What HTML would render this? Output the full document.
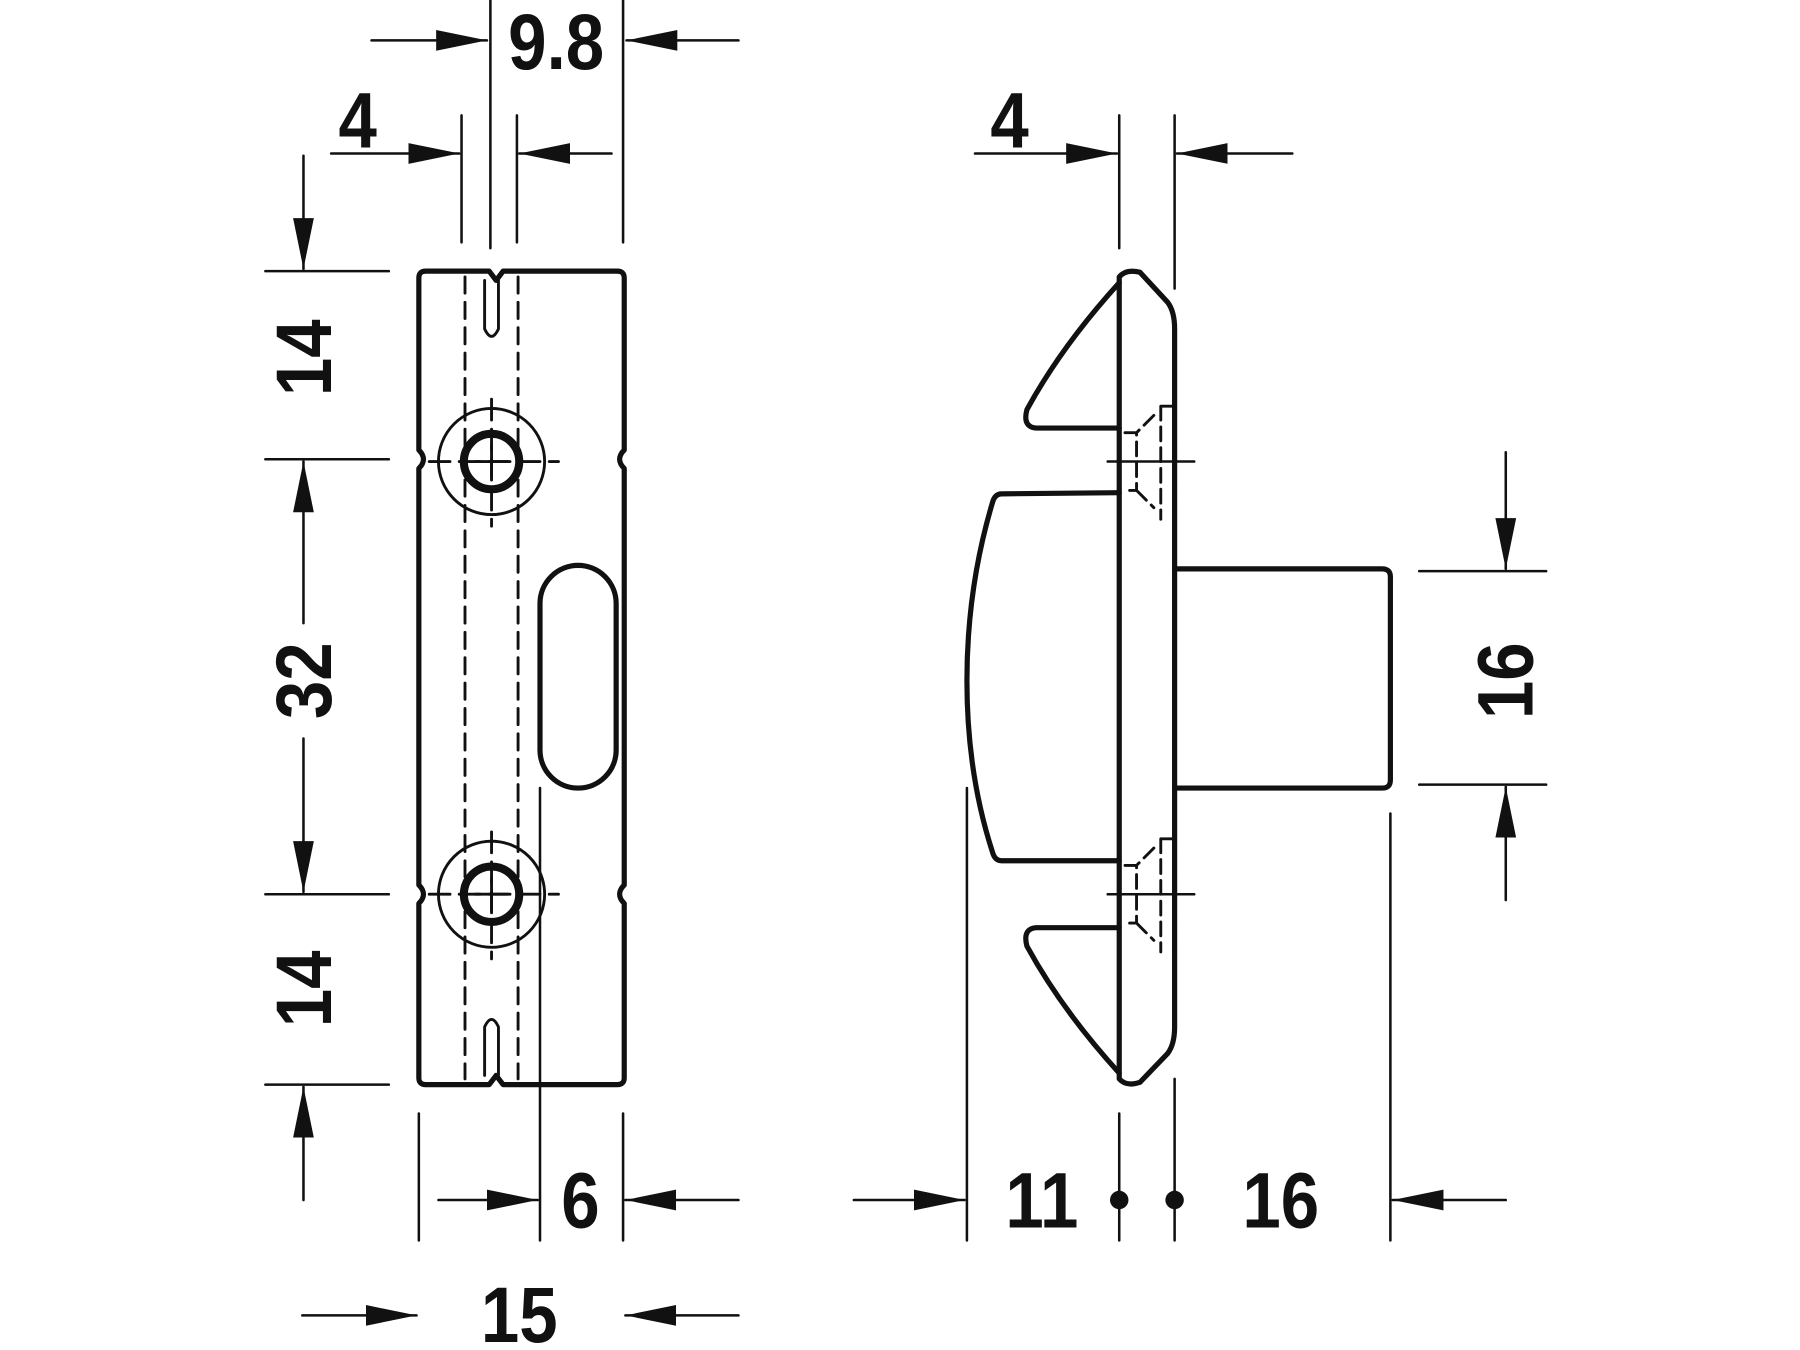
<!DOCTYPE html>
<html><head><meta charset="utf-8"><style>html,body{margin:0;padding:0;background:#fff}svg{display:block}</style></head>
<body>
<svg width="1800" height="1350" viewBox="0 0 1560 1170" xmlns="http://www.w3.org/2000/svg">
<defs>
<marker id="a" markerUnits="userSpaceOnUse" markerWidth="44" markerHeight="24" refX="44" refY="12" orient="auto"><path d="M0,3 L44,12 L0,21 z" fill="#111"/></marker>
</defs>
<g fill="none" stroke="#111" stroke-linejoin="round" stroke-linecap="round">
<!-- LEFT VIEW body -->
<path stroke-width="4.5" d="M369,235 L424,235 L430,243 L436,235 L535,235 Q541,235 541,241 L541,390 Q533,398 541,406 L541,767 Q533,775 541,783 L541,934 Q541,940 535,940 L436,940 L430,932 L424,940 L369,940 Q363,940 363,934 L363,783 Q371,775 363,767 L363,406 Q371,398 363,390 L363,241 Q363,235 369,235 Z"/>
<!-- slots -->
<path stroke-width="2.5" d="M420,243 L420,285 Q426,298 432,285 L432,243"/>
<path stroke-width="2.5" d="M420,932 L420,890 Q426,877 432,890 L432,932"/>
<!-- dashed rails -->
<path stroke-width="2.5" stroke-dasharray="14,8" d="M403,240 L403,935 M449,240 L449,935"/>
<!-- oblong slot -->
<rect x="468" y="490" width="66" height="193" rx="33" stroke-width="4.5"/>
<!-- screws -->
<g>
<circle cx="426" cy="400" r="46" stroke-width="2.5"/>
<circle cx="426" cy="400" r="24" stroke-width="7"/>
<path stroke-width="2.5" d="M412,400 L440,400 M426,386 L426,414"/>
<path stroke-width="2.5" stroke-dasharray="18,8" d="M372,400 L484,400 M426,346 L426,456"/>
</g>
<g>
<circle cx="426" cy="775" r="46" stroke-width="2.5"/>
<circle cx="426" cy="775" r="24" stroke-width="7"/>
<path stroke-width="2.5" d="M412,775 L440,775 M426,761 L426,789"/>
<path stroke-width="2.5" stroke-dasharray="18,8" d="M372,775 L484,775 M426,721 L426,831"/>
</g>
<!-- ext lines -->
<path stroke-width="2.2" d="M425,0 L425,215 M540,0 L540,210 M400,100 L400,210 M448,100 L448,210 M230,235 L337,235 M230,398 L337,398 M230,775 L337,775 M230,940 L337,940 M363,965 L363,1075 M540,965 L540,1075 M468,683 L468,1075"/>
<!-- dims left -->
<g stroke-width="2.2">
<line x1="322" y1="35" x2="422" y2="35" marker-end="url(#a)"/>
<line x1="640" y1="35" x2="543" y2="35" marker-end="url(#a)"/>
<line x1="287" y1="133" x2="398" y2="133" marker-end="url(#a)"/>
<line x1="530" y1="133" x2="450" y2="133" marker-end="url(#a)"/>
<line x1="263" y1="135" x2="263" y2="233" marker-end="url(#a)"/>
<line x1="263" y1="540" x2="263" y2="400" marker-end="url(#a)"/>
<line x1="263" y1="640" x2="263" y2="773" marker-end="url(#a)"/>
<line x1="263" y1="1040" x2="263" y2="942" marker-end="url(#a)"/>
<line x1="380" y1="1040" x2="466" y2="1040" marker-end="url(#a)"/>
<line x1="640" y1="1040" x2="542" y2="1040" marker-end="url(#a)"/>
<line x1="262" y1="1140" x2="361" y2="1140" marker-end="url(#a)"/>
<line x1="640" y1="1140" x2="542" y2="1140" marker-end="url(#a)"/>
</g>
<!-- RIGHT VIEW -->
<path stroke-width="4.5" d="M970,240 Q976,233 988,236 L1012,262 Q1018,270 1018,285 L1018,890 Q1018,905 1012,913 L988,938 Q976,942 970,935 Z"/>
<path stroke-width="4.5" d="M970,245 Q920,300 890,355 Q886,370 898,371 L970,371"/>
<path stroke-width="4.5" d="M970,930 Q920,875 890,820 Q886,805 898,804 L970,804"/>
<path stroke-width="4.5" d="M970,427 L868,428 Q862,428 860,436 Q838,510 838,590 Q838,670 860,738 Q862,746 868,746 L970,746"/>
<path stroke-width="4.5" d="M1018,493 L1198,493 Q1205,493 1205,500 L1205,676 Q1205,683 1198,683 L1018,683"/>
<path stroke-width="2.5" stroke-dasharray="12,6" d="M975,375 L985,375 L985,425 L975,425 M1006,352 L1018,352 L1018,450 M1006,352 L1006,450 M1000,360 L985,375 M985,425 L1000,440"/>
<path stroke-width="2.5" stroke-dasharray="12,6" d="M975,750 L985,750 L985,800 L975,800 M1006,727 L1018,727 L1018,825 M1006,727 L1006,825 M1000,735 L985,750 M985,800 L1000,815"/>
<path stroke-width="2.2" d="M960,400 L1035,400 M960,775 L1035,775"/>
<!-- ext lines right -->
<path stroke-width="2.2" d="M970,100 L970,215 M1018,100 L1018,250 M1230,495 L1340,495 M1230,680 L1340,680 M838,683 L838,1075 M970,965 L970,1075 M1018,935 L1018,1075 M1205,705 L1205,1075"/>
<g stroke-width="2.2">
<line x1="845" y1="133" x2="968" y2="133" marker-end="url(#a)"/>
<line x1="1120" y1="133" x2="1020" y2="133" marker-end="url(#a)"/>
<line x1="1305" y1="392" x2="1305" y2="493" marker-end="url(#a)"/>
<line x1="1305" y1="780" x2="1305" y2="682" marker-end="url(#a)"/>
<line x1="740" y1="1040" x2="836" y2="1040" marker-end="url(#a)"/>
<line x1="1305" y1="1040" x2="1207" y2="1040" marker-end="url(#a)"/>
</g>
</g>
<circle cx="970" cy="1040" r="8" fill="#111"/>
<circle cx="1018" cy="1040" r="8" fill="#111"/>
<g font-family="'Liberation Sans', sans-serif" font-size="68" font-weight="bold" fill="#111" text-anchor="middle">
<text transform="translate(482,60) scale(0.88,1)">9.8</text>
<text transform="translate(310,128) scale(0.88,1)">4</text>
<text transform="translate(875,128) scale(0.88,1)">4</text>
<text transform="translate(503,1064) scale(0.88,1)">6</text>
<text transform="translate(450,1163) scale(0.88,1)">15</text>
<text transform="translate(903,1064) scale(0.88,1)">11</text>
<text transform="translate(1110,1064) scale(0.88,1)">16</text>
<text transform="translate(287,310) rotate(-90) scale(0.88,1)">14</text>
<text transform="translate(287,590) rotate(-90) scale(0.88,1)">32</text>
<text transform="translate(287,857) rotate(-90) scale(0.88,1)">14</text>
<text transform="translate(1328,590) rotate(-90) scale(0.88,1)">16</text>
</g>
</svg>
</body></html>
